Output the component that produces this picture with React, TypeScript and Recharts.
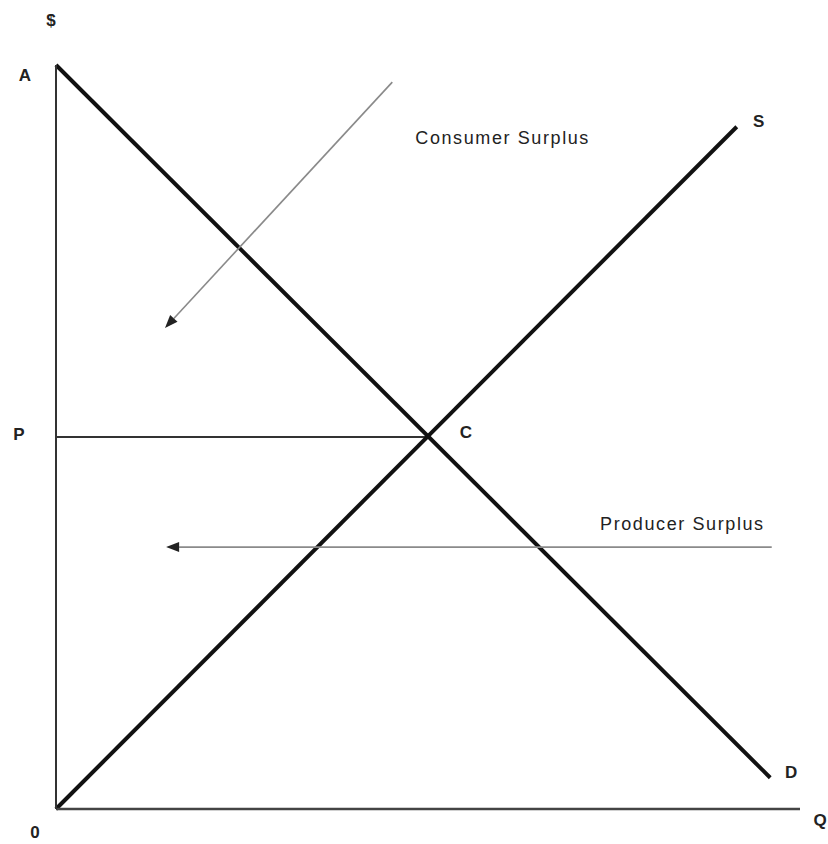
import { LineChart, Line, XAxis, YAxis, ReferenceLine, ReferenceDot } from 'recharts';

// quantity (q) and price (p), both on a 0-100 scale
const demand = [
  { q: 0, p: 100 },
  { q: 96, p: 4.2 },
];
const supply = [
  { q: 0, p: 0 },
  { q: 91.5, p: 91.7 },
];
const priceLine = [
  { q: 0, p: 50 },
  { q: 50, p: 50 },
];
const consumerArrow = [
  { q: 45.2, p: 97.7 },
  { q: 14.65, p: 64.65 },
];
const producerArrow = [
  { q: 96.2, p: 35.2 },
  { q: 14.8, p: 35.2 },
];

// text labels hung on points of the diagram
const letterLabels = [
  { text: '$', q: 0, p: 100, dx: -5, dy: -45 },
  { text: 'A', q: 0, p: 100, dx: -31, dy: 10 },
  { text: 'P', q: 0, p: 50, dx: -37, dy: -3 },
  { text: '0', q: 0, p: 0, dx: -21, dy: 23 },
  { text: 'Q', q: 100, p: 0, dx: 20, dy: 11 },
  { text: 'S', q: 91.5, p: 91.7, dx: 22, dy: -5 },
  { text: 'D', q: 96, p: 4.2, dx: 21, dy: -5 },
  { text: 'C', q: 50, p: 50, dx: 38, dy: -5 },
];
const surplusLabels = [
  { text: 'Consumer Surplus', q: 45.2, p: 97.7, dx: 23, dy: 56, anchor: 'start' },
  { text: 'Producer Surplus', q: 96.2, p: 35.2, dx: -7, dy: -23, anchor: 'end' },
];

const FONT = '"Liberation Sans", Arial, Helvetica, sans-serif';

const Arrow = (props: any) => {
  const { x1, y1, x2, y2 } = props;
  const ang = Math.atan2(y2 - y1, x2 - x1);
  const len = 13;
  const half = 5;
  const bx = x2 - len * Math.cos(ang);
  const by = y2 - len * Math.sin(ang);
  const px = -Math.sin(ang) * half;
  const py = Math.cos(ang) * half;
  return (
    <g>
      <line x1={x1} y1={y1} x2={bx} y2={by} stroke="#8a8a8a" strokeWidth={1.6} />
      <polygon
        points={`${x2},${y2} ${bx + px},${by + py} ${bx - px},${by - py}`}
        fill="#222"
      />
    </g>
  );
};

const App = () => {
  return (
    <div style={{ position: 'absolute', left: 0, top: 0, background: '#fff' }}>
      <LineChart
        width={828}
        height={844}
        margin={{ top: 65, right: 28, bottom: 34, left: 55 }}
      >
        <XAxis
          type="number"
          dataKey="q"
          domain={[0, 100]}
          height={1}
          tick={false}
          tickLine={false}
          axisLine={{ stroke: '#444', strokeWidth: 2.5 }}
        />
        <YAxis
          type="number"
          domain={[0, 100]}
          width={1}
          tick={false}
          tickLine={false}
          axisLine={{ stroke: '#333', strokeWidth: 2 }}
        />
        <Line
          data={priceLine}
          dataKey="p"
          stroke="#333"
          strokeWidth={2.2}
          dot={false}
          activeDot={false}
          isAnimationActive={false}
        />
        <Line
          data={demand}
          dataKey="p"
          stroke="#111"
          strokeWidth={4}
          dot={false}
          activeDot={false}
          isAnimationActive={false}
        />
        <Line
          data={supply}
          dataKey="p"
          stroke="#111"
          strokeWidth={4}
          dot={false}
          activeDot={false}
          isAnimationActive={false}
        />
        <ReferenceLine
          segment={[
            { x: consumerArrow[0].q, y: consumerArrow[0].p },
            { x: consumerArrow[1].q, y: consumerArrow[1].p },
          ]}
          shape={(p: any) => <Arrow {...p} />}
        />
        <ReferenceLine
          segment={[
            { x: producerArrow[0].q, y: producerArrow[0].p },
            { x: producerArrow[1].q, y: producerArrow[1].p },
          ]}
          shape={(p: any) => <Arrow {...p} />}
        />
        {letterLabels.map((l) => (
          <ReferenceDot
            key={l.text}
            x={l.q}
            y={l.p}
            r={0}
            ifOverflow="visible"
            shape={(p: any) => (
              <text
                x={p.cx + l.dx}
                y={p.cy + l.dy}
                textAnchor="middle"
                dominantBaseline="central"
                fontFamily={FONT}
                fontWeight="bold"
                fontSize={17}
                fill="#222"
              >
                {l.text}
              </text>
            )}
          />
        ))}
        {surplusLabels.map((l) => (
          <ReferenceDot
            key={l.text}
            x={l.q}
            y={l.p}
            r={0}
            ifOverflow="visible"
            shape={(p: any) => (
              <text
                x={p.cx + l.dx}
                y={p.cy + l.dy}
                textAnchor={l.anchor}
                dominantBaseline="central"
                fontFamily={FONT}
                fontSize={18}
                letterSpacing={1.6}
                fill="#222"
              >
                {l.text}
              </text>
            )}
          />
        ))}
      </LineChart>
    </div>
  );
};

export default App;
